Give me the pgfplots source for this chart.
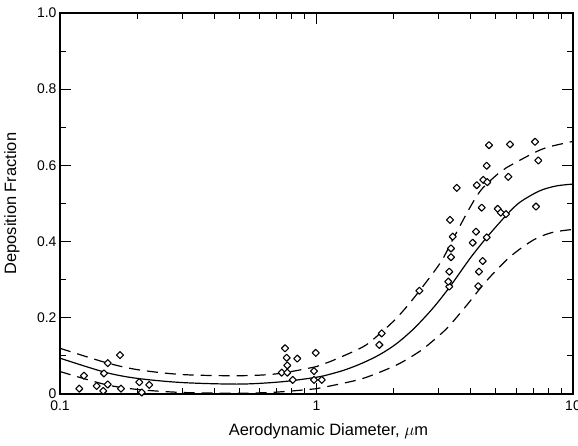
\documentclass[border=0pt]{standalone}
\usepackage{pgfplots}
\pgfplotsset{compat=1.18}
\usepackage{fontspec}
\setmainfont{Liberation Sans}
\begin{document}
\begin{tikzpicture}
\begin{axis}[
  scale only axis,
  width=513bp, height=381bp,
  xmode=log,
  xmin=0.1, xmax=10, ymin=0, ymax=1,
  xtick={0.1,1,10}, xticklabels={0.1,1,10},
  ytick={0,0.2,0.4,0.6,0.8,1.0},
  yticklabels={0,0.2,0.4,0.6,0.8,1.0},
  minor ytick={0.1,0.3,0.5,0.7,0.9},
  tick align=inside,
  major tick length=11bp, minor tick length=6bp,
  every tick/.style={black, line width=1.1bp},
  axis line style={line width=1.6bp},
  /pgf/number format/assume math mode=true,
  tick label style={font=\fontsize{14}{16}\selectfont},
  xticklabel style={yshift=-3bp},
  label style={font=\fontsize{16.5}{19}\selectfont},
  xlabel={Aerodynamic Diameter, $\mu$m},
  ylabel={Deposition Fraction},
  xlabel style={at={(axis description cs:0.5,0)}, anchor=center, yshift=-37bp, xshift=12bp},
  ylabel style={at={(axis description cs:0,0.5)}, anchor=center, rotate=0, yshift=48bp},
  clip=false,
]
% solid curve
\addplot[black, line width=1.2bp, smooth] coordinates {
(0.1,0.094) (0.15,0.057) (0.2,0.041) (0.3,0.030) (0.5,0.026) (0.73,0.032)
(1.0,0.044) (1.13,0.052) (1.3,0.064) (1.52,0.082) (1.77,0.104) (2.05,0.132)
(2.4,0.172) (2.85,0.226) (3.315,0.282) (3.97,0.356) (4.61,0.411) (5.51,0.470)
(6.2,0.503) (7.4,0.533) (8.6,0.546) (10,0.551)};
% upper dashed
\addplot[black, line width=1.2bp, dash pattern=on 11bp off 7bp, smooth] coordinates {
(0.1,0.120) (0.15,0.083) (0.2,0.064) (0.3,0.051) (0.5,0.048) (0.7,0.053)
(1.0,0.072) (1.13,0.085) (1.52,0.124) (1.77,0.159) (2.05,0.199) (2.39,0.251)
(3.03,0.343) (3.42,0.409) (3.97,0.490) (4.4,0.537) (5.1,0.578) (5.5,0.594)
(7.0,0.632) (8.0,0.648) (10,0.663)};
% lower dashed
\addplot[black, line width=1.2bp, dash pattern=on 11bp off 7bp, smooth] coordinates {
(0.1,0.059) (0.15,0.025) (0.2,0.012) (0.3,0.004) (0.5,0.002) (0.7,0.005)
(1.0,0.014) (1.13,0.021) (1.52,0.041) (2.05,0.076) (2.5,0.110) (2.77,0.133)
(3.22,0.172) (3.8,0.228) (4.6,0.297) (5.68,0.360) (7.0,0.404) (8.3,0.424) (10,0.432)};
% data points
\addplot[only marks, mark=square*, mark size=2.5bp,
  mark options={rotate=45, fill=white, draw=black, line width=1.1bp, line join=round}]
coordinates {
(0.1189,0.014) (0.1240,0.048) (0.1390,0.021) (0.1475,0.008) (0.1484,0.054)
(0.1535,0.081) (0.1535,0.025) (0.1713,0.102) (0.1729,0.014) (0.2038,0.031)
(0.2083,0.004) (0.2229,0.024)
(0.7539,0.120) (0.7653,0.095) (0.8417,0.093) (0.7696,0.075) (0.7318,0.056)
(0.7696,0.056) (0.8076,0.037) (0.9928,0.108) (0.978,0.060) (0.978,0.037) (1.048,0.037)
(1.796,0.159) (1.758,0.129) (2.517,0.271)
(3.294,0.282) (3.265,0.295) (3.294,0.321) (3.345,0.359) (3.345,0.382) (3.396,0.413)
(3.315,0.457) (3.521,0.541)
(4.064,0.397) (4.187,0.426) (4.608,0.411) (4.446,0.349) (4.300,0.321) (4.273,0.283)
(4.214,0.548) (4.470,0.562) (4.634,0.556) (4.608,0.599) (4.705,0.653)
(5.682,0.655) (7.112,0.662) (7.324,0.613) (5.596,0.570)
(4.406,0.489) (5.087,0.486) (5.226,0.476) (5.481,0.472) (7.175,0.492)
};
\end{axis}
\pgfresetboundingbox
\path[use as bounding box] ([shift={(-60bp,-52bp)}]current axis.south west) rectangle ([shift={(5bp,13bp)}]current axis.north east);
\end{tikzpicture}
\end{document}
